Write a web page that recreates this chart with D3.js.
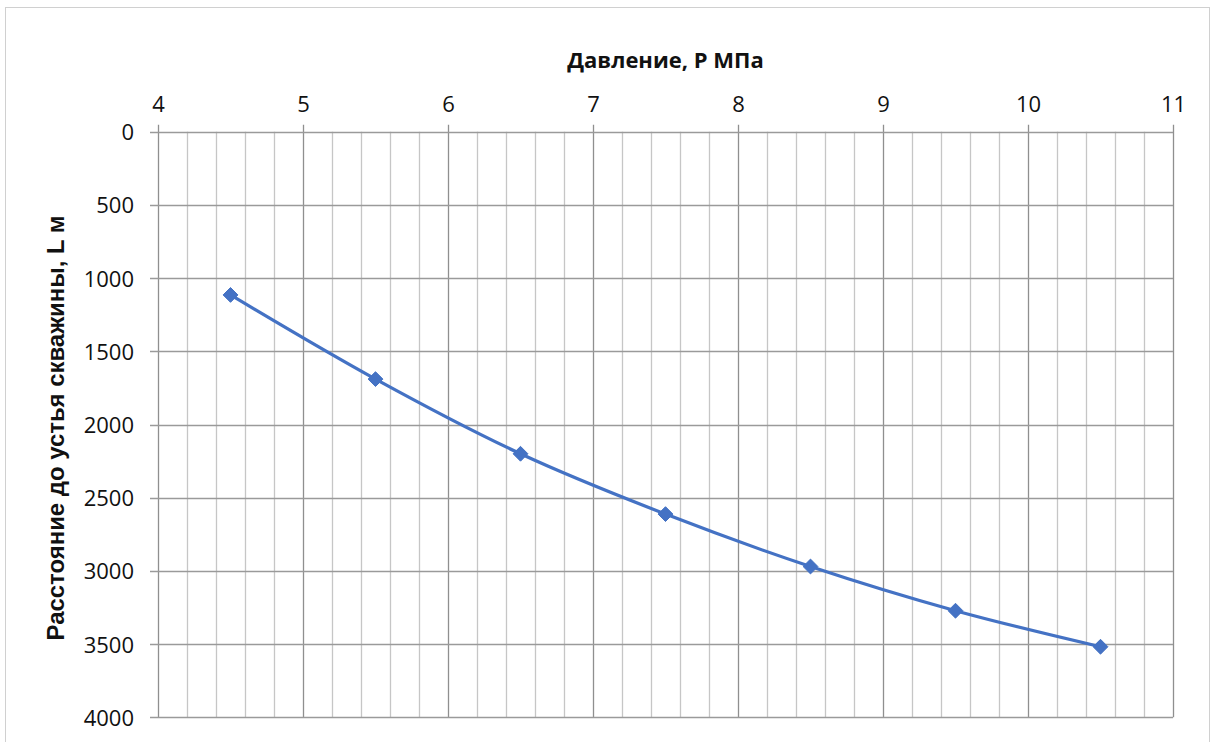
<!DOCTYPE html>
<html><head><meta charset="utf-8">
<script src="https://cdn.jsdelivr.net/npm/d3@7"></script>
<style>
html,body{margin:0;padding:0;background:#fff;}
svg{display:block;}
</style></head>
<body>
<svg id="chart" width="1216" height="742"></svg>
<script>
const pressure = [4.5, 5.5, 6.5, 7.5, 8.5, 9.5, 10.5];
const distance = [1115, 1690, 2200, 2612, 2970, 3272, 3518];
const xTicks = [4, 5, 6, 7, 8, 9, 10, 11];
const yTicks = [0, 500, 1000, 1500, 2000, 2500, 3000, 3500, 4000];
const xTitle = "Давление, Р МПа";
const yTitle = "Расстояние до устья скважины, L м";

(function () {
const svg = d3.select("#chart");
const pL = 158, pR = 1173, pT = 131.7, pB = 717.3;
const x = d3.scaleLinear().domain([4, 11]).range([pL, pR]);
const y = d3.scaleLinear().domain([0, 4000]).range([pT, pB]);

// outer border
svg.append("rect").attr("x", 5.5).attr("y", 7.5).attr("width", 1204).attr("height", 760)
  .attr("fill", "none").attr("stroke", "#d0d0d0").attr("stroke-width", 1);

// minor vertical grid
const minor = d3.range(4, 11.0001, 0.2).filter(v => Math.abs(v - Math.round(v)) > 1e-6);
svg.append("g").selectAll("line").data(minor).join("line")
  .attr("x1", d => Math.round(x(d)) + 0.5).attr("x2", d => Math.round(x(d)) + 0.5)
  .attr("y1", pT).attr("y2", pB)
  .attr("stroke", "#c6c6c6").attr("stroke-width", 1.3);

// major vertical grid
svg.append("g").selectAll("line").data(xTicks).join("line")
  .attr("x1", d => Math.round(x(d)) + 0.5).attr("x2", d => Math.round(x(d)) + 0.5)
  .attr("y1", pT - 7).attr("y2", pB)
  .attr("stroke", "#8f8f8f").attr("stroke-width", 1.3);

// horizontal grid
svg.append("g").selectAll("line").data(yTicks).join("line")
  .attr("x1", pL - 8).attr("x2", pR)
  .attr("y1", d => Math.round(y(d)) + 0.5).attr("y2", d => Math.round(y(d)) + 0.5)
  .attr("stroke", "#9a9a9a").attr("stroke-width", 1.3);

// x axis (top) labels via d3 axis
const xAxis = svg.append("g").attr("transform", `translate(0,${pT - 20})`)
  .call(d3.axisTop(x).tickValues(xTicks).tickSize(0).tickPadding(0).tickFormat(d3.format("d")));
xAxis.select(".domain").remove();
xAxis.selectAll("text").attr("font-family", "'Open Sans', sans-serif").attr("font-size", 22)
  .attr("fill", "#111").attr("dy", "0");

const yAxis = svg.append("g").attr("transform", `translate(${pL - 24},0)`)
  .call(d3.axisLeft(y).tickValues(yTicks).tickSize(0).tickPadding(0).tickFormat(d3.format("d")));
yAxis.select(".domain").remove();
yAxis.selectAll("text").attr("font-family", "'Open Sans', sans-serif").attr("font-size", 22)
  .attr("fill", "#111").attr("dy", "0.36em");

// titles
svg.append("text").attr("x", (pL + pR) / 2).attr("y", 68)
  .attr("text-anchor", "middle").attr("font-family", "'Open Sans', sans-serif")
  .attr("font-weight", "bold").attr("font-size", 22).attr("fill", "#111").text(xTitle);
const yt = svg.append("text").attr("transform", `translate(64,428) rotate(-90)`)
  .attr("text-anchor", "middle").attr("font-family", "'Liberation Sans', Arial, sans-serif")
  .attr("font-weight", "bold").attr("font-size", 20).attr("fill", "#111").text(yTitle);
const len = yt.node().getComputedTextLength();
if (len > 0) yt.attr("font-size", 20 * 425 / len);

// line
const pts = pressure.map((p, i) => [p, distance[i]]);
const line = d3.line().x(d => x(d[0])).y(d => y(d[1])).curve(d3.curveCatmullRom.alpha(0));
svg.append("path").datum(pts).attr("d", line).attr("fill", "none")
  .attr("stroke", "#4472C4").attr("stroke-width", 3.2).attr("stroke-linejoin", "round");

// markers
const sym = d3.symbol().type(d3.symbolDiamond2).size(140);
svg.append("g").selectAll("path").data(pts).join("path")
  .attr("transform", d => `translate(${x(d[0])},${y(d[1])})`)
  .attr("d", sym).attr("fill", "#4472C4").attr("stroke", "#4472C4").attr("stroke-width", 1);
})();
</script>
</body></html>
